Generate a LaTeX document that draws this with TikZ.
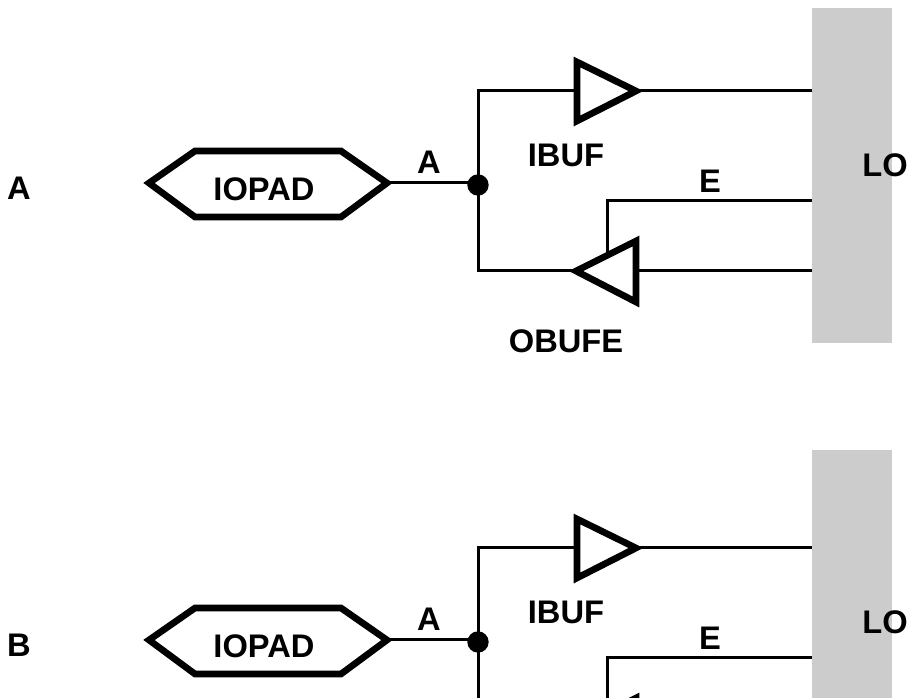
\documentclass[tikz,border=0pt]{standalone}
\usepackage{fontspec}
\setmainfont{Liberation Sans}
\definecolor{blockgrey}{HTML}{CCCCCC}
\tikzset{
  lbl/.style={font=\fontsize{24.5}{28}\selectfont\bfseries, inner sep=0pt, text=black},
  wire/.style={draw=black, line width=2.25pt, line join=miter},
  thick shape/.style={draw=black, line width=5pt, line join=miter, miter limit=10, fill=white},
  junction/.style={circle, fill=black, draw=none, minimum size=16pt, inner sep=0pt},
  logicblock/.style={fill=blockgrey, draw=none}
}
\newcommand{\iounit}[6]{%
  % #1 prefix, #2 y offset, #3 left label, #4 grey top, #5 grey bottom, #6 extra label
  \fill[logicblock] (812,#4) rectangle (892,#5);
  \begin{scope}[shift={(0,#2)}]
    \coordinate (#1hw) at (149,183);
    \coordinate (#1he) at (387,183);
    \node[junction] (#1dot) at (478,185) {};
    \coordinate (#1jt) at (478,183);
    \coordinate (#1in) at (577,91);
    \coordinate (#1out) at (636,91);
    \coordinate (#1ot) at (576,271);
    \coordinate (#1ob) at (636,271);
    \coordinate (#1en) at (607,254);
    \coordinate (#1rt) at (812,91);
    \coordinate (#1re) at (812,201);
    \coordinate (#1rb) at (812,271);
    \draw[wire] (#1he) -- (#1jt);
    \draw[wire] (#1dot.center) |- (#1in);
    \draw[wire] (#1dot.center) |- (#1ot);
    \draw[wire] (#1out) -- (#1rt);
    \draw[wire] (#1en) |- (#1re);
    \draw[wire] (#1ob) -- (#1rb);
    \draw[thick shape] (#1hw) -- (195,151) -- (341,151) -- (#1he) -- (341,217) -- (195,217) -- cycle;
    \draw[thick shape] (577,62) -- (#1out) -- (577,121) -- cycle;
    \draw[thick shape] (#1ot) -- (636,241) -- (636,302) -- cycle;
    \node[lbl] (#1side) at (19,188) {#3};
    \node[lbl] (#1pad) at (264,189) {IOPAD};
    \node[lbl] (#1a) at (429,162) {A};
    \node[lbl] (#1ibuf) at (566,155) {IBUF};
    \node[lbl] (#1e) at (710,181) {E};
    #6
    \node[lbl] (#1lo) at (885,165) {LO};
  \end{scope}
}
\begin{document}
\begin{tikzpicture}[x=0.75pt,y=-0.75pt]
  \useasboundingbox (0,0) rectangle (908,698);
  \clip (0,0) rectangle (908,698);
  \iounit{u}{0}{A}{8}{343}{\node[lbl] (uobufe) at (566,341) {OBUFE};}
  \iounit{v}{457}{B}{450}{700}{}
\end{tikzpicture}
\end{document}
